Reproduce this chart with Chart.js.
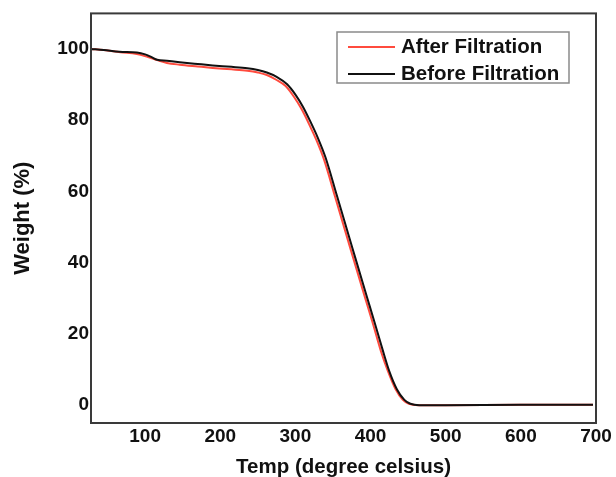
<!DOCTYPE html>
<html>
<head>
<meta charset="utf-8">
<script src="https://cdn.jsdelivr.net/npm/chart.js@4.4.1/dist/chart.umd.min.js"></script>
<style>
  html, body { margin: 0; padding: 0; background: #fff; overflow: hidden; }
  #wrap { width: 616px; height: 477px; }
</style>
</head>
<body>
<div id="wrap"><canvas id="tga" width="616" height="477"></canvas></div>
<script>
'use strict';

/* --------------------------------------------------------------------------
   DATA
   -------------------------------------------------------------------------- */
const seriesLabels = ['After Filtration', 'Before Filtration'];
const seriesColors = ['#ff4b3e', '#111111'];

const tempAfter = [28, 45, 67, 89, 103, 116, 129, 146, 170, 190, 215, 236, 250, 262, 275, 287, 298, 308, 318, 328, 338, 353, 374, 393, 403, 414, 423, 433, 443, 451, 463, 500, 600, 696];
const weightAfter = [100, 99.7, 99.1, 98.6, 97.8, 96.9, 96.1, 95.6, 95.1, 94.7, 94.3, 93.9, 93.4, 92.7, 91.3, 89.6, 86.6, 83.2, 79.0, 74.4, 69.0, 58.4, 43.4, 30, 23, 15, 9.6, 4.6, 1.5, 0.4, 0, 0, 0.1, 0.1];

const tempBefore = [28, 45, 66, 89, 100, 108, 116, 129, 146, 170, 190, 215, 236, 250, 262, 275, 289, 300, 310, 320, 330, 340, 355, 376, 395, 405, 416, 425, 435, 445, 453, 465, 500, 600, 696];
const weightBefore = [100, 99.7, 99.2, 99.0, 98.5, 97.8, 97.0, 96.7, 96.3, 95.8, 95.4, 95.0, 94.6, 94.1, 93.4, 92.2, 90.1, 87.2, 83.8, 79.6, 75.0, 69.6, 59.0, 44, 30.5, 23.5, 15.6, 9.5, 4.5, 1.5, 0.4, 0, 0, 0.1, 0.1];

const xTicks = [100, 200, 300, 400, 500, 600, 700];
const yTicks = [0, 20, 40, 60, 80, 100];

/* --------------------------------------------------------------------------
   HELPERS
   -------------------------------------------------------------------------- */
const FONT = '"Liberation Sans", Arial, sans-serif';
const toPoints = (xs, ys) => xs.map((x, i) => ({ x, y: ys[i] }));

// frame round the plot area
const framePlugin = {
    id: 'frame',
    afterDraw(chart) {
        const { ctx, chartArea: a } = chart;
        ctx.save();
        ctx.strokeStyle = '#3a3a3a';
        ctx.lineWidth = 2;
        ctx.strokeRect(a.left, a.top, a.right - a.left, a.bottom - a.top);
        ctx.restore();
    },
};

// boxed legend inside the plot, top right
const boxLegendPlugin = {
    id: 'boxLegend',
    afterDraw(chart) {
        const { ctx } = chart;
        const box = { x: 337, y: 32, w: 232, h: 51 };
        ctx.save();
        ctx.fillStyle = '#fff';
        ctx.fillRect(box.x, box.y, box.w, box.h);
        ctx.strokeStyle = '#8a8a8a';
        ctx.lineWidth = 1.5;
        ctx.strokeRect(box.x, box.y, box.w, box.h);
        ctx.font = 'bold 20.5px ' + FONT;
        ctx.textBaseline = 'middle';
        seriesLabels.forEach((label, i) => {
            const y = box.y + 15 + i * 27;
            ctx.strokeStyle = seriesColors[i];
            ctx.lineWidth = 2;
            ctx.beginPath();
            ctx.moveTo(348, y);
            ctx.lineTo(395, y);
            ctx.stroke();
            ctx.fillStyle = '#111';
            ctx.fillText(label, 401, y);
        });
        ctx.restore();
    },
};

/* --------------------------------------------------------------------------
   CHART
   -------------------------------------------------------------------------- */
const ctx = document.getElementById('tga').getContext('2d');

new Chart(ctx, {
    type: 'line',
    data: {
        datasets: [{
            label: seriesLabels[0],
            data: toPoints(tempAfter, weightAfter),
            borderColor: seriesColors[0],
            borderWidth: 2,
            pointRadius: 0,
            cubicInterpolationMode: 'monotone',
            order: 1,
        }, {
            label: seriesLabels[1],
            data: toPoints(tempBefore, weightBefore),
            borderColor: seriesColors[1],
            borderWidth: 2,
            pointRadius: 0,
            cubicInterpolationMode: 'monotone',
            order: 0,
        }],
    },
    options: {
        responsive: false,
        animation: false,
        layout: { padding: { top: 13, right: 20, left: 0, bottom: 0 } },
        plugins: {
            legend: { display: false },
            tooltip: { enabled: false },
        },
        scales: {
            x: {
                type: 'linear',
                min: 28,
                max: 700,
                afterBuildTicks: s => { s.ticks = xTicks.map(v => ({ value: v })); },
                afterFit: s => { s.height = 54; },
                grid: { display: false, drawTicks: false },
                border: { display: false },
                ticks: { color: '#111', padding: 2, maxRotation: 0, font: { family: FONT, size: 19, weight: 'bold' } },
                title: {
                    display: true,
                    text: 'Temp (degree celsius)',
                    color: '#111',
                    padding: { top: 0, bottom: -3 },
                    font: { family: FONT, size: 20.5, weight: 'bold' },
                },
            },
            y: {
                min: -5,
                max: 110,
                afterBuildTicks: s => { s.ticks = yTicks.map(v => ({ value: v })); },
                afterFit: s => { s.width = 91; },
                grid: { display: false, drawTicks: false },
                border: { display: false },
                ticks: { color: '#111', padding: 2, font: { family: FONT, size: 19, weight: 'bold' } },
                title: {
                    display: true,
                    text: 'Weight (%)',
                    color: '#111',
                    padding: { top: 10, bottom: 0 },
                    font: { family: FONT, size: 22, weight: 'bold' },
                },
            },
        },
    },
    plugins: [framePlugin, boxLegendPlugin],
});
</script>
</body>
</html>
